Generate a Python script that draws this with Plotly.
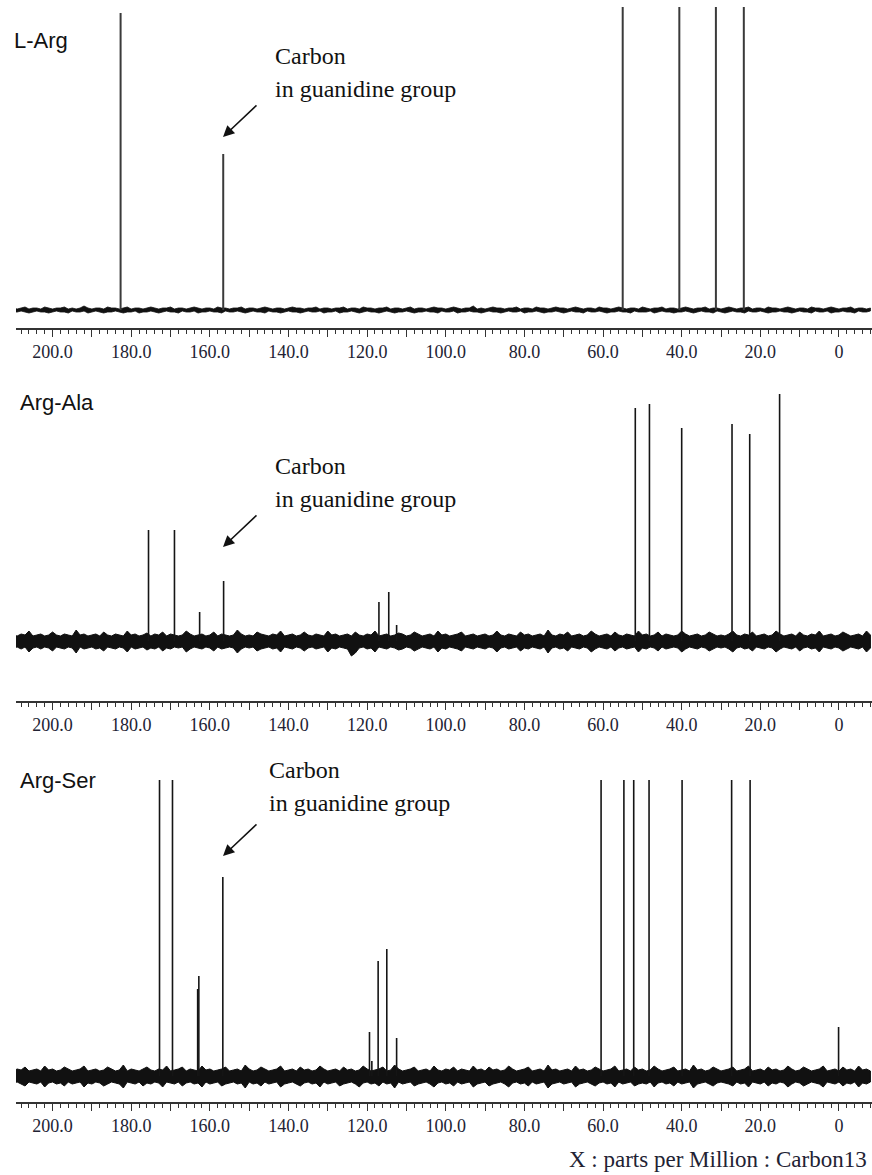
import plotly.graph_objects as go

# ---- chemical shift grid (ppm) on which the baseline noise is sampled ----
NOISE_PPM = list(range(210, -9, -1))

# ---- L-Arg ----
LARG_PPM = [182.7, 156.6, 55.0, 40.6, 31.3, 24.2]
LARG_INT = [297, 156, 330, 330, 330, 330]
LARG_NOISE_UP = [
    2, 1, 2, 3, 1, 2, 2, 1, 3, 2, 1, 2, 2, 3, 1, 2, 1, 2, 4, 2,
    1, 2, 2, 1, 3, 2, 2, 1, 2, 3, 1, 2, 2, 1, 2, 3, 2, 1, 2, 2,
    3, 1, 2, 2, 1, 2, 3, 2, 1, 2, 2, 1, 3, 2, 2, 1, 2, 2, 3, 1,
    2, 2, 1, 2, 3, 2, 1, 2, 2, 1, 2, 3, 2, 2, 1, 2, 2, 3, 1, 2,
    2, 1, 2, 2, 3, 1, 2, 2, 1, 3, 2, 2, 1, 2, 2, 3, 1, 2, 2, 1,
    2, 3, 1, 2, 2, 1, 2, 3, 2, 2, 1, 2, 3, 2, 1, 2, 2, 4, 1, 2,
    1, 2, 3, 2, 2, 1, 2, 2, 3, 1, 2, 2, 1, 3, 2, 2, 1, 2, 3, 2,
    2, 1, 2, 3, 2, 1, 2, 2, 1, 3, 2, 2, 1, 2, 3, 2, 1, 2, 2, 1,
    3, 2, 1, 2, 2, 3, 1, 2, 2, 1, 2, 3, 2, 1, 2, 2, 3, 1, 2, 2,
    1, 2, 3, 2, 1, 2, 2, 3, 1, 2, 2, 1, 3, 2, 2, 1, 2, 3, 2, 1,
    2, 2, 1, 3, 2, 2, 1, 2, 3, 2, 1, 2, 2, 3, 1, 2, 2, 1, 2]
LARG_NOISE_DOWN = [
    2, 2, 1, 2, 3, 2, 1, 2, 2, 3, 2, 1, 2, 2, 3, 1, 2, 2, 1, 3,
    2, 1, 2, 3, 2, 2, 1, 2, 3, 2, 2, 1, 3, 2, 2, 1, 2, 3, 2, 1,
    2, 2, 3, 1, 2, 2, 1, 3, 2, 2, 1, 2, 2, 3, 1, 2, 2, 1, 2, 3,
    2, 1, 2, 2, 3, 1, 2, 2, 3, 2, 1, 2, 2, 3, 2, 1, 2, 2, 1, 3,
    2, 2, 1, 3, 2, 2, 1, 2, 3, 2, 1, 2, 2, 3, 2, 1, 2, 3, 2, 2,
    1, 2, 3, 2, 2, 1, 2, 2, 3, 1, 2, 2, 1, 3, 2, 2, 1, 2, 2, 3,
    2, 1, 2, 2, 3, 2, 1, 2, 2, 1, 3, 2, 2, 1, 2, 3, 2, 2, 1, 2,
    3, 2, 1, 2, 2, 3, 1, 2, 2, 1, 2, 3, 2, 2, 1, 2, 2, 3, 1, 2,
    2, 2, 1, 3, 2, 1, 2, 2, 3, 2, 2, 1, 2, 3, 2, 1, 2, 2, 3, 1,
    2, 3, 2, 1, 2, 2, 3, 1, 2, 2, 1, 2, 3, 2, 2, 1, 2, 2, 3, 2,
    1, 2, 2, 3, 1, 2, 2, 1, 3, 2, 2, 1, 2, 2, 3, 1, 2, 2, 1]

# ---- Arg-Ala ----
ALA_PPM = [175.6, 169.0, 162.6, 156.5, 117.0, 114.5, 112.5, 51.8, 48.2, 40.0, 27.2, 22.7, 15.1]
ALA_INT = [111, 111, 29, 60, 39, 49, 16, 233, 237, 213, 217, 207, 247]
ALA_NOISE_UP = [
    6, 5, 7, 6, 10, 5, 6, 7, 5, 6, 9, 6, 5, 7, 6, 5, 11, 6, 7, 5,
    6, 7, 5, 9, 6, 5, 7, 6, 5, 10, 6, 7, 5, 6, 8, 5, 7, 6, 9, 5,
    7, 6, 5, 6, 10, 7, 5, 6, 7, 5, 6, 9, 5, 7, 6, 5, 6, 11, 7, 5,
    6, 5, 9, 7, 6, 5, 7, 6, 10, 5, 6, 7, 5, 6, 9, 6, 5, 7, 6, 5,
    10, 6, 7, 5, 6, 7, 5, 9, 6, 5, 7, 6, 10, 5, 6, 7, 5, 6, 8, 7,
    5, 6, 9, 7, 5, 6, 7, 5, 10, 6, 7, 5, 6, 7, 9, 5, 6, 7, 5, 6,
    7, 5, 6, 10, 6, 5, 7, 6, 5, 9, 6, 7, 5, 6, 7, 5, 11, 6, 5, 7,
    6, 9, 5, 6, 7, 5, 6, 10, 7, 5, 6, 7, 5, 9, 6, 5, 7, 6, 5, 10,
    6, 7, 5, 6, 9, 5, 7, 6, 5, 6, 10, 7, 5, 6, 7, 5, 6, 9, 7, 5,
    6, 5, 7, 10, 6, 5, 7, 6, 9, 5, 6, 7, 5, 6, 10, 7, 5, 6, 7, 5,
    9, 6, 5, 7, 6, 10, 5, 6, 7, 5, 6, 9, 7, 5, 6, 7, 5, 10, 6]
ALA_NOISE_DOWN = [
    7, 6, 8, 6, 11, 7, 6, 8, 6, 7, 10, 6, 7, 8, 6, 7, 12, 6, 8, 7,
    6, 8, 7, 10, 6, 7, 8, 6, 7, 11, 6, 8, 7, 6, 9, 7, 8, 6, 10, 7,
    8, 6, 7, 6, 11, 8, 6, 7, 8, 6, 7, 10, 6, 8, 7, 6, 7, 12, 8, 6,
    7, 6, 10, 8, 7, 6, 8, 7, 11, 6, 7, 8, 6, 7, 10, 7, 6, 8, 7, 6,
    11, 7, 8, 6, 7, 8, 15, 12, 7, 6, 8, 7, 11, 6, 7, 8, 6, 7, 9, 8,
    6, 7, 10, 8, 6, 7, 8, 6, 11, 7, 8, 6, 7, 8, 10, 6, 7, 8, 6, 7,
    8, 6, 7, 11, 7, 6, 8, 7, 6, 10, 7, 8, 6, 7, 8, 6, 12, 7, 6, 8,
    7, 10, 6, 7, 8, 6, 7, 11, 8, 6, 7, 8, 6, 10, 7, 6, 8, 7, 6, 11,
    7, 8, 6, 7, 10, 6, 8, 7, 6, 7, 11, 8, 6, 7, 8, 6, 7, 10, 8, 6,
    7, 6, 8, 11, 7, 6, 8, 7, 10, 6, 7, 8, 6, 7, 11, 8, 6, 7, 8, 6,
    10, 7, 6, 8, 7, 11, 6, 7, 8, 6, 7, 10, 8, 6, 7, 8, 6, 11, 7]

# ---- Arg-Ser ----
SER_PPM = [172.8, 169.5, 163.1, 162.8, 156.7, 119.4, 118.8, 117.2, 115.0, 112.5,
           60.5, 54.7, 52.2, 48.3, 39.9, 27.3, 22.6, 0.1]
SER_INT = [330, 330, 87, 100, 199, 44, 15, 115, 127, 38,
           330, 330, 330, 330, 330, 330, 330, 49]
SER_NOISE_UP = [
    5, 7, 6, 9, 5, 6, 7, 5, 10, 6, 7, 5, 6, 9, 7, 5, 6, 7, 10, 5,
    6, 7, 5, 6, 9, 7, 5, 6, 11, 5, 7, 6, 5, 7, 9, 6, 5, 7, 6, 10,
    5, 6, 7, 9, 5, 7, 6, 5, 10, 6, 7, 5, 6, 7, 9, 5, 6, 7, 5, 11,
    7, 5, 6, 9, 7, 5, 6, 7, 10, 5, 6, 7, 5, 9, 6, 7, 5, 6, 10, 7,
    5, 6, 7, 5, 9, 6, 7, 5, 6, 10, 7, 5, 6, 7, 9, 5, 6, 11, 7, 5,
    6, 7, 9, 5, 6, 7, 5, 10, 6, 5, 7, 6, 9, 5, 7, 6, 5, 10, 6, 7,
    5, 9, 6, 7, 5, 6, 10, 7, 5, 6, 7, 9, 5, 6, 7, 5, 11, 6, 7, 5,
    6, 7, 5, 10, 6, 7, 5, 6, 9, 7, 5, 6, 7, 10, 5, 6, 7, 5, 9, 6,
    7, 5, 6, 10, 7, 5, 6, 7, 9, 5, 6, 7, 5, 11, 6, 7, 5, 6, 9, 7,
    5, 6, 7, 9, 5, 6, 7, 10, 5, 6, 7, 5, 9, 6, 7, 5, 6, 10, 7, 5,
    6, 9, 7, 5, 6, 7, 10, 5, 6, 7, 5, 9, 6, 7, 5, 10, 6, 7, 5]
SER_NOISE_DOWN = [
    7, 6, 8, 10, 6, 7, 8, 6, 11, 7, 6, 8, 7, 10, 6, 8, 7, 6, 11, 7,
    8, 6, 7, 10, 8, 6, 7, 8, 12, 6, 7, 8, 6, 10, 7, 8, 6, 7, 11, 6,
    7, 8, 6, 10, 7, 6, 8, 7, 11, 6, 8, 7, 6, 10, 8, 7, 6, 8, 7, 12,
    6, 8, 7, 10, 6, 8, 7, 6, 11, 8, 7, 6, 8, 10, 7, 6, 8, 7, 11, 6,
    8, 7, 6, 10, 8, 7, 6, 8, 11, 7, 6, 8, 7, 10, 6, 8, 7, 12, 6, 8,
    7, 6, 10, 8, 7, 6, 8, 11, 7, 6, 8, 7, 10, 6, 8, 7, 6, 11, 8, 7,
    6, 10, 8, 7, 6, 8, 11, 7, 6, 8, 7, 10, 6, 8, 7, 6, 12, 8, 7, 6,
    8, 7, 6, 11, 8, 7, 6, 8, 10, 7, 6, 8, 7, 11, 6, 8, 7, 6, 10, 8,
    7, 8, 6, 11, 7, 6, 8, 7, 10, 6, 8, 7, 6, 12, 8, 7, 6, 8, 10, 7,
    6, 7, 8, 10, 6, 8, 7, 11, 6, 7, 8, 6, 10, 7, 8, 6, 7, 11, 8, 6,
    7, 10, 8, 6, 7, 8, 11, 6, 7, 8, 6, 10, 7, 8, 6, 11, 7, 8, 6]

SAMPLE_NAMES = ["L-Arg", "Arg-Ala", "Arg-Ser"]
NOTE_LINES = ["Carbon", "in guanidine group"]
AXIS_TITLE = "X : parts per Million : Carbon13"
MAJOR_TICKS = list(range(200, -1, -10))

SERIF = "Liberation Serif, Times New Roman, Times, serif"
SANS = "Liberation Sans, Arial, Helvetica, sans-serif"

W, H = 872, 1175


def py(v):
    """pixel row -> paper y"""
    return 1 - v / H


def px(v):
    """pixel column -> paper x"""
    return v / W


# panel geometry in pixel rows: plot top, axis line, spectrum baseline
panels = [
    dict(top=7, bottom=328, base=310, ppm=LARG_PPM, inten=LARG_INT,
         up=LARG_NOISE_UP, down=LARG_NOISE_DOWN, noise_w=0.8,
         pk_color="#3a3a3a", pk_w=2.0, label_x=12, label_y=40,
         note_x=273, note_y=56, tip=(223, 137)),
    dict(top=380, bottom=701, base=641, ppm=ALA_PPM, inten=ALA_INT,
         up=ALA_NOISE_UP, down=ALA_NOISE_DOWN, noise_w=1.0,
         pk_color="#151515", pk_w=1.6, label_x=18, label_y=402,
         note_x=273, note_y=466, tip=(223, 547)),
    dict(top=780, bottom=1102, base=1076, ppm=SER_PPM, inten=SER_INT,
         up=SER_NOISE_UP, down=SER_NOISE_DOWN, noise_w=1.0,
         pk_color="#151515", pk_w=1.6, label_x=18, label_y=780,
         note_x=267, note_y=770, tip=(223, 856)),
]

fig = go.Figure()
annotations = []
layout_axes = {}

ticktext = []
for v in MAJOR_TICKS:
    if v == 0:
        ticktext.append("0")
    elif v % 20 == 0:
        ticktext.append(f"{v:.1f}")
    else:
        ticktext.append("")

for i, p in enumerate(panels):
    xa = "x" if i == 0 else f"x{i + 1}"
    ya = "y" if i == 0 else f"y{i + 1}"

    # baseline noise: filled band between upper and lower excursions
    lower = [-d for d in p["down"]]
    fig.add_trace(go.Scatter(
        x=NOISE_PPM + NOISE_PPM[::-1],
        y=p["up"] + lower[::-1],
        mode="lines", fill="toself", fillcolor="#111111",
        line=dict(color="#111111", width=p["noise_w"]),
        hoverinfo="skip", showlegend=False, xaxis=xa, yaxis=ya,
    ))

    # resonance lines
    xs, ys = [], []
    for c, h in zip(p["ppm"], p["inten"]):
        xs += [c, c, None]
        ys += [0, h, None]
    fig.add_trace(go.Scatter(
        x=xs, y=ys, mode="lines",
        line=dict(color=p["pk_color"], width=p["pk_w"]),
        hoverinfo="skip", showlegend=False, xaxis=xa, yaxis=ya,
    ))

    key = "" if i == 0 else str(i + 1)
    layout_axes[f"xaxis{key}"] = dict(
        domain=[px(16), 1.0], anchor=ya, range=[209.3, -8.4],
        showline=True, linecolor="#333333", linewidth=1.5,
        ticks="outside", ticklen=7, tickwidth=1.3, tickcolor="#333333",
        tickmode="array", tickvals=MAJOR_TICKS, ticktext=ticktext,
        tickfont=dict(family=SERIF, size=18, color="#222233"),
        minor=dict(ticks="outside", ticklen=4, tickwidth=1.1, tickcolor="#333333",
                   tickmode="linear", tick0=0, dtick=2, showgrid=False),
        showgrid=False, zeroline=False, fixedrange=True,
    )
    layout_axes[f"yaxis{key}"] = dict(
        domain=[py(p["bottom"]), py(p["top"])], anchor=xa,
        range=[-(p["bottom"] - p["base"]), p["base"] - p["top"]],
        visible=False, fixedrange=True,
    )

    # sample name
    annotations.append(dict(
        text=SAMPLE_NAMES[i], xref="paper", yref="paper",
        x=px(p["label_x"]), y=py(p["label_y"]),
        xanchor="left", yanchor="middle", showarrow=False,
        font=dict(family=SANS, size=22, color="#111111"),
    ))
    # guanidine carbon note, two lines
    for j, line in enumerate(NOTE_LINES):
        annotations.append(dict(
            text=line, xref="paper", yref="paper",
            x=px(p["note_x"]), y=py(p["note_y"] + 33 * j),
            xanchor="left", yanchor="middle", showarrow=False,
            font=dict(family=SERIF, size=24, color="#111111"),
        ))
    # arrow pointing at the guanidine carbon
    tx, ty = p["tip"]
    annotations.append(dict(
        text="", xref="paper", yref="paper", x=px(tx), y=py(ty),
        ax=35, ay=-33, showarrow=True, arrowhead=2, arrowsize=1.5,
        arrowwidth=1.5, arrowcolor="#111111", standoff=0,
    ))

annotations.append(dict(
    text=AXIS_TITLE, xref="paper", yref="paper", x=px(869), y=py(1159),
    xanchor="right", yanchor="middle", showarrow=False,
    font=dict(family=SERIF, size=23, color="#222233"),
))

fig.update_layout(
    width=W, height=H,
    margin=dict(l=0, r=0, t=0, b=0),
    paper_bgcolor="white", plot_bgcolor="white",
    showlegend=False,
    annotations=annotations,
    **layout_axes,
)

fig.write_html("out.html", config={"displayModeBar": False})
